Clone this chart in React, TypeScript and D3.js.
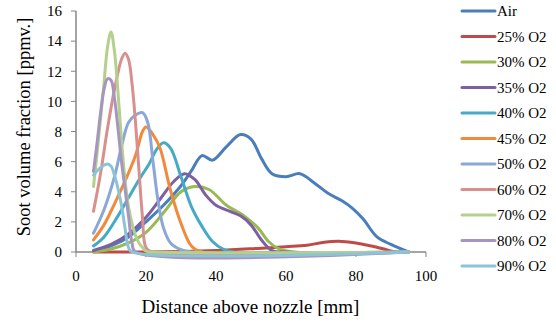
import React from "react";
import * as d3 from "d3";

const seriesNames = ["Air", "25% O2", "30% O2", "35% O2", "40% O2", "45% O2", "50% O2", "60% O2", "70% O2", "80% O2", "90% O2"];
const colors = ["#4A7EBB", "#BE4B48", "#98B954", "#7D60A0", "#46AAC5", "#F08A3C", "#8BA7D5", "#D7908E", "#B5CF8C", "#A596C0", "#8CC4D6"];

const airX = [5, 10, 15, 20, 25, 30, 33, 36, 39, 43, 47, 50, 53, 56, 60, 64, 68, 72, 76, 79, 82, 86, 90, 95];
const airY = [0.05, 0.4, 1.0, 2.0, 3.1, 4.4, 5.4, 6.4, 6.1, 7.0, 7.8, 7.5, 6.2, 5.2, 5.0, 5.2, 4.6, 3.9, 3.4, 2.9, 2.2, 1.0, 0.5, 0];
const o25X = [5, 20, 40, 52, 60, 66, 71, 75, 80, 84, 88, 91, 95];
const o25Y = [0, 0, 0.1, 0.24, 0.35, 0.45, 0.65, 0.72, 0.6, 0.42, 0.2, 0.02, 0];
const o30X = [5, 10, 15, 20, 25, 30, 34, 38, 43, 48, 52, 55, 58, 62, 95];
const o30Y = [0, 0.2, 0.6, 1.3, 2.6, 4.0, 4.35, 4.15, 3.1, 2.4, 1.6, 0.7, 0.2, 0, 0];
const o35X = [5, 10, 15, 20, 24, 28, 31, 34, 37, 40, 44, 47, 50, 53, 56, 60, 95];
const o35Y = [0.1, 0.5, 1.2, 2.3, 3.5, 4.7, 5.2, 4.8, 3.8, 3.1, 2.7, 2.4, 1.8, 0.8, 0.1, 0, 0];
const o40X = [5, 8, 12, 15, 18, 21, 23, 25, 27, 30, 33, 36, 39, 42, 45, 95];
const o40Y = [0.4, 1.0, 2.4, 3.6, 4.8, 5.9, 6.8, 7.25, 6.9, 5.0, 3.0, 1.7, 0.7, 0.2, 0, 0];
const o45X = [5, 8, 11, 14, 17, 19, 20, 22, 24, 27, 30, 33, 36, 95];
const o45Y = [0.8, 1.8, 3.2, 4.7, 6.4, 8.0, 8.3, 7.8, 6.9, 4.1, 1.9, 0.4, 0, 0];
const o50X = [5, 8, 11, 13, 15, 17, 19, 20.5, 22, 23.5, 25, 27, 30, 33, 95];
const o50Y = [1.25, 2.8, 5.0, 7.0, 8.6, 9.1, 9.25, 8.6, 6.0, 3.3, 1.6, 0.6, 0.15, 0, 0];
const o60X = [5, 7, 9, 11, 13, 14, 15, 16, 17, 18, 19, 20, 22, 95];
const o60Y = [2.7, 5.2, 8.2, 10.8, 12.8, 13.2, 12.8, 11.2, 8.6, 5.4, 2.3, 0.3, 0, 0];
const o70X = [5, 6, 7, 8, 9, 10, 11, 12, 13, 14, 15, 16, 17, 18, 19, 20, 22, 95];
const o70Y = [4.35, 6.5, 8.8, 11.2, 13.6, 14.6, 13.3, 10.6, 7.4, 4.8, 3.0, 1.9, 1.1, 0.6, 0.3, 0.05, 0, 0];
const o80X = [5, 6, 7, 8, 9, 10, 11, 12, 13, 14, 15, 16, 17, 95];
const o80Y = [5.35, 7.2, 9.2, 10.8, 11.5, 11.4, 10.2, 8.2, 6.0, 4.2, 2.4, 0.6, 0, 0];
const o90X = [5, 7, 9, 10, 11, 12, 13, 14, 15, 16, 95];
const o90Y = [5.1, 5.6, 5.85, 5.7, 5.1, 4.2, 3.1, 1.6, 0.3, 0, 0];

const seriesX = [airX, o25X, o30X, o35X, o40X, o45X, o50X, o60X, o70X, o80X, o90X];
const seriesY = [airY, o25Y, o30Y, o35Y, o40Y, o45Y, o50Y, o60Y, o70Y, o80Y, o90Y];

const xTicks = [0, 20, 40, 60, 80, 100];
const yTicks = [0, 2, 4, 6, 8, 10, 12, 14, 16];

const FONT = "Liberation Serif, Times New Roman, serif";
const textStyle = { fontFamily: FONT };

export default function App() {
  const W = 556, H = 322;
  const x = d3.scaleLinear().domain([0, 100]).range([76, 426]);
  const y = d3.scaleLinear().domain([0, 16]).range([252, 11]);
  const line = d3
    .line<[number, number]>()
    .x((d) => x(d[0]))
    .y((d) => y(d[1]))
    .curve(d3.curveCatmullRom.alpha(0.5));
  const axisColor = "#868686";
  const legendY0 = 11;
  const legendStep = 25.5;
  return (
    <svg width={W} height={H} style={{ position: "absolute", left: 0, top: 0 }}>
      <rect x={0} y={0} width={W} height={H} fill="#fff" />
      <line x1={x(0)} x2={x(0)} y1={y(16)} y2={y(0)} stroke={axisColor} strokeWidth={1.5} />
      <line x1={x(0)} x2={x(100)} y1={y(0)} y2={y(0)} stroke={axisColor} strokeWidth={1.5} />
      {yTicks.map((t) => (
        <g key={"y" + t}>
          <line x1={x(0) - 5} x2={x(0)} y1={y(t)} y2={y(t)} stroke={axisColor} strokeWidth={1} />
          <text x={62} y={y(t)} dy="0.35em" textAnchor="end" fontSize={15} fill="#000" style={textStyle}>
            {t}
          </text>
        </g>
      ))}
      {xTicks.map((t) => (
        <g key={"x" + t}>
          <line x1={x(t)} x2={x(t)} y1={y(0)} y2={y(0) + 5} stroke={axisColor} strokeWidth={1} />
          <text x={x(t)} y={281} textAnchor="middle" fontSize={15} fill="#000" style={textStyle}>
            {t}
          </text>
        </g>
      ))}
      {seriesNames.map((name, i) => {
        const pts = seriesX[i].map((v, j) => [v, seriesY[i][j]] as [number, number]);
        return (
          <path key={name} d={line(pts) || ""} fill="none" stroke={colors[i]} strokeWidth={3} strokeLinejoin="round" strokeLinecap="round" />
        );
      })}
      <text x={250.5} y={313} textAnchor="middle" fontSize={19} fill="#000" style={textStyle}>
        Distance above nozzle [mm]
      </text>
      <text transform="translate(30, 127) rotate(-90)" textAnchor="middle" fontSize={18.5} fill="#000" style={textStyle}>
        Soot volume fraction [ppmv.]
      </text>
      {seriesNames.map((name, i) => (
        <g key={"l" + name}>
          <line x1={462} x2={495} y1={legendY0 + i * legendStep} y2={legendY0 + i * legendStep} stroke={colors[i]} strokeWidth={3} strokeLinecap="round" />
          <text x={497} y={legendY0 + i * legendStep} dy="0.35em" fontSize={15} fill="#000" style={textStyle}>
            {name}
          </text>
        </g>
      ))}
    </svg>
  );
}
